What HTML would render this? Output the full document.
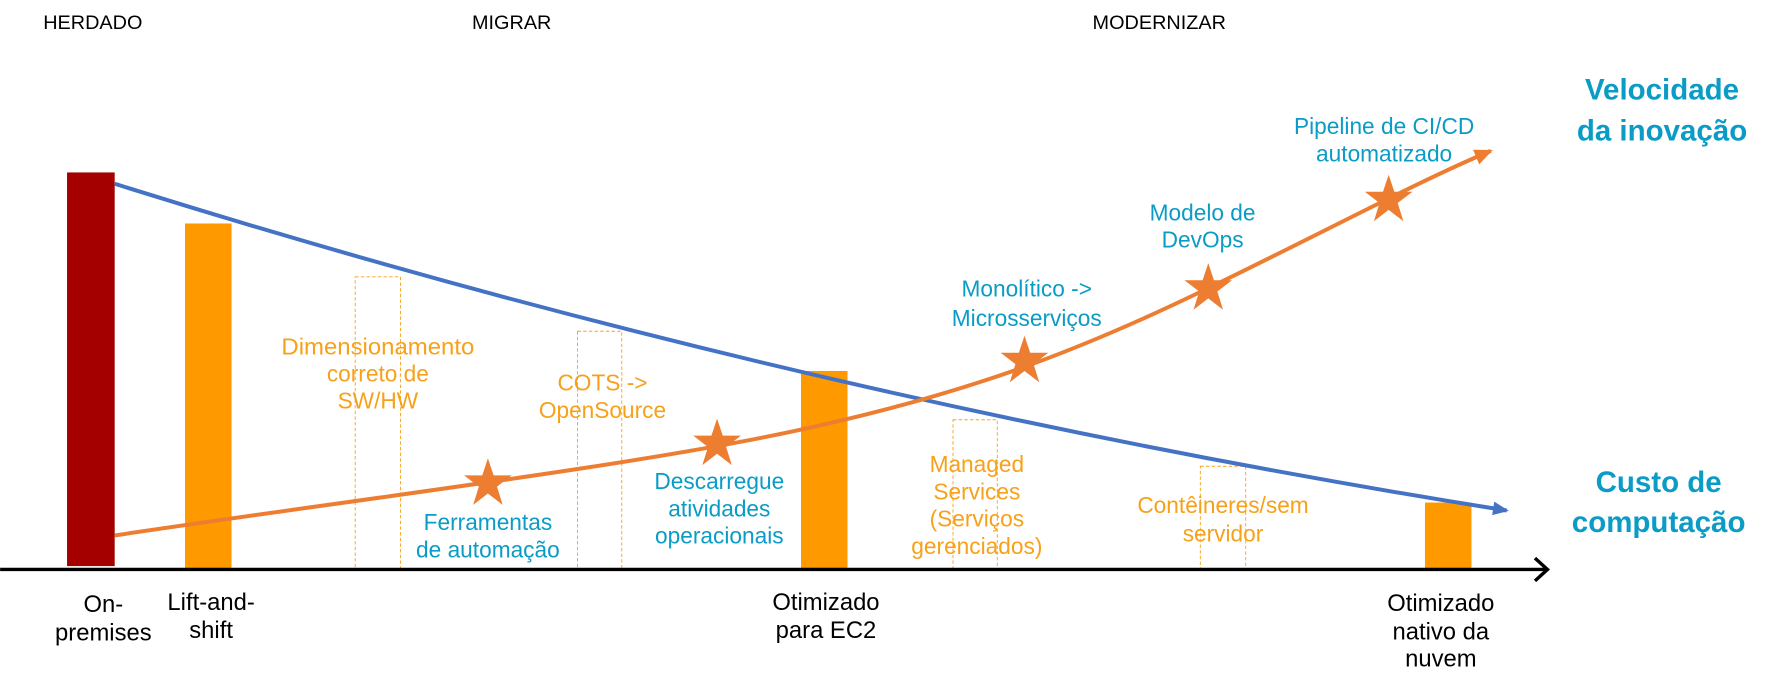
<!DOCTYPE html>
<html><head><meta charset="utf-8"><style>
html,body{margin:0;padding:0;background:#fff;}
svg{display:block;}
text{font-family:"Liberation Sans",sans-serif;}
</style></head><body>
<svg width="1779" height="692" viewBox="0 0 1568 610" xmlns="http://www.w3.org/2000/svg">
<defs>
<marker id="ab" markerWidth="14" markerHeight="12" refX="12" refY="6" orient="auto" markerUnits="userSpaceOnUse"><path d="M0,0 L14,6 L0,12 Z" fill="#4472C4"/></marker>
<marker id="ao" markerWidth="16" markerHeight="14" refX="14" refY="7" orient="auto" markerUnits="userSpaceOnUse"><path d="M0,0 L16,7 L0,14 Z" fill="#ED7D31"/></marker>
</defs>
<g fill="none" stroke="#F7A11A" stroke-width="0.8" stroke-dasharray="3,2">
<rect x="313" y="244" width="40" height="258"/>
<rect x="509" y="292" width="39" height="210"/>
<rect x="840" y="370" width="39" height="132"/>
<rect x="1058" y="411" width="40" height="91"/>
</g>
<rect x="59" y="152" width="42" height="347" fill="#A50000"/>
<rect x="163" y="197" width="41" height="304" fill="#FF9900"/>
<rect x="706" y="327" width="41" height="174" fill="#FF9900"/>
<rect x="1256" y="443" width="41" height="58" fill="#FF9900"/>
<line x1="0" y1="502" x2="1362" y2="502" stroke="#000" stroke-width="3"/>
<path d="M1353,492 L1364,502 L1353,512" fill="none" stroke="#000" stroke-width="3"/>
<path d="M101,162 Q700,350 1328,450" fill="none" stroke="#4472C4" stroke-width="3.5" marker-end="url(#ab)"/>
<path d="M101,472 C300,442 550,412 700,380 S950,310 1065,254 S1250,160 1314,133" fill="none" stroke="#ED7D31" stroke-width="3.5" marker-end="url(#ao)"/>
<g fill="#ED7D31">
<polygon points="0,-22 5,-7 21,-7 8,3 13,19 0,9 -13,19 -8,3 -21,-7 -5,-7" transform="translate(430,426)"/>
<polygon points="0,-22 5,-7 21,-7 8,3 13,19 0,9 -13,19 -8,3 -21,-7 -5,-7" transform="translate(632,391)"/>
<polygon points="0,-22 5,-7 21,-7 8,3 13,19 0,9 -13,19 -8,3 -21,-7 -5,-7" transform="translate(903,318)"/>
<polygon points="0,-22 5,-7 21,-7 8,3 13,19 0,9 -13,19 -8,3 -21,-7 -5,-7" transform="translate(1065,254)"/>
<polygon points="0,-22 5,-7 21,-7 8,3 13,19 0,9 -13,19 -8,3 -21,-7 -5,-7" transform="translate(1224,176)"/>
</g>
<g font-size="17.5" fill="#000" dominant-baseline="middle">
<text x="38" y="21">HERDADO</text>
<text x="416" y="21">MIGRAR</text>
<text x="963" y="21">MODERNIZAR</text>
</g>
<g font-size="20" fill="#F7A11A" text-anchor="middle" dominant-baseline="middle">
<text x="333" y="307" textLength="170" lengthAdjust="spacingAndGlyphs">Dimensionamento</text>
<text x="333" y="331">correto de</text>
<text x="333" y="355">SW/HW</text>
<text x="531" y="339">COTS -&gt;</text>
<text x="531" y="363">OpenSource</text>
<text x="861" y="411">Managed</text>
<text x="861" y="435">Services</text>
<text x="861" y="459">(Serviços</text>
<text x="861" y="483">gerenciados)</text>
<text x="1078" y="447">Contêineres/sem</text>
<text x="1078" y="472">servidor</text>
</g>
<g font-size="20" fill="#0A9CC6" text-anchor="middle" dominant-baseline="middle">
<text x="430" y="462">Ferramentas</text>
<text x="430" y="486">de automação</text>
<text x="634" y="426">Descarregue</text>
<text x="634" y="450">atividades</text>
<text x="634" y="474">operacionais</text>
<text x="905" y="256">Monolítico -&gt;</text>
<text x="905" y="282">Microsserviços</text>
<text x="1060" y="189">Modelo de</text>
<text x="1060" y="213">DevOps</text>
<text x="1220" y="113">Pipeline de CI/CD</text>
<text x="1220" y="137">automatizado</text>
</g>
<g font-size="26" font-weight="bold" fill="#0A9CC6" text-anchor="middle" dominant-baseline="middle">
<text x="1465" y="81">Velocidade</text>
<text x="1465" y="117">da inovação</text>
<text x="1462" y="427">Custo de</text>
<text x="1462" y="462">computação</text>
</g>
<g font-size="21" fill="#000" text-anchor="middle" dominant-baseline="middle">
<text x="91" y="534">On-</text>
<text x="91" y="559">premises</text>
<text x="186" y="532">Lift-and-</text>
<text x="186" y="557">shift</text>
<text x="728" y="532">Otimizado</text>
<text x="728" y="557">para EC2</text>
<text x="1270" y="533">Otimizado</text>
<text x="1270" y="558">nativo da</text>
<text x="1270" y="582">nuvem</text>
</g>
</svg>
</body></html>
